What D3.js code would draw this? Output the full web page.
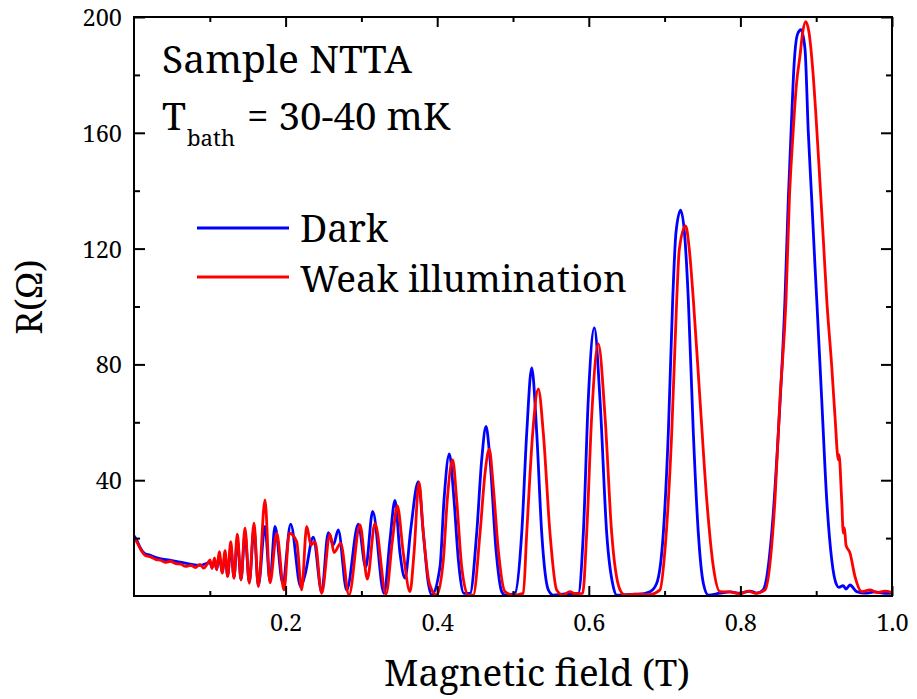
<!DOCTYPE html>
<html><head><meta charset="utf-8">
<script src="https://cdn.jsdelivr.net/npm/d3@7"></script>
<style>
body{margin:0;background:#fff}
svg{display:block}
</style></head><body>
<svg id="c" width="917" height="699"></svg>
<script>
// ---- data ----
const xMajorTicks = [0.2, 0.4, 0.6, 0.8, 1.0];
const xMinorTicks = [0.1, 0.3, 0.5, 0.7, 0.9];
const yMajorTicks = [40, 80, 120, 160, 200];
const yMinorTicks = [20, 60, 100, 140, 180];
const seriesNames = ["Dark", "Weak illumination"];

const darkData = [
[0,20.8],[0.003,19.6],[0.008,16.8],[0.0145,14.6],[0.021,14.1],[0.028,13.4],[0.034,12.9],[0.047,12.4],[0.061,11.7],[0.074,11.0],[0.087,10.6],
[0.1003,11.5],[0.1029,9.8],[0.1062,12.0],[0.1091,9.3],[0.1125,13.8],[0.1165,8.2],[0.1201,14.2],[0.1236,7.0],[0.1276,17.0],[0.1319,6.5],
[0.1363,19.5],[0.1412,5.8],[0.1464,21.5],[0.1521,4.8],[0.1583,23.2],[0.1640,3.6],[0.1728,24.0],[0.1794,5.0],[0.1860,24.0],[0.1962,4.4],
[0.2067,24.8],[0.2199,3.2],[0.2256,7.3],[0.2365,20.3],[0.2476,1.4],[0.2563,21.9],[0.2629,17.6],[0.2695,22.8],[0.2806,2.0],[0.2959,24.8],
[0.3057,9.9],[0.3149,29.2],[0.3298,0.9],[0.3377,19.4],[0.3443,33.0],[0.3509,14.8],[0.3575,6.2],[0.3650,22.8],[0.3751,39.5],[0.3817,21.7],
[0.3883,4.4],[0.3927,0.4],[0.4037,10.1],[0.4090,33.2],[0.4160,49.1],[0.4222,33.2],[0.4279,12.5],[0.4354,0.9],[0.4433,0.9],[0.4521,21.7],
[0.4587,47],[0.4644,58.6],[0.4697,47],[0.4776,15.9],[0.4851,1.5],[0.4894,0.3],[0.5026,0.9],[0.5115,21.7],[0.5181,56.3],[0.5247,78.8],
[0.5313,56.3],[0.5379,21.7],[0.5466,2.1],[0.5532,0.3],[0.5686,0.7],[0.5862,0.9],[0.5928,21.7],[0.5993,67.8],[0.6073,92.6],[0.6148,67.8],
[0.6236,21.7],[0.6323,3.2],[0.6368,0.3],[0.6500,0.5],[0.6650,0.6],[0.6807,1.5],[0.6896,4.4],[0.6983,21.7],[0.7049,56.3],[0.7107,102.4],
[0.7150,125.5],[0.7212,133.3],[0.7269,123.2],[0.7313,102.4],[0.7379,56.3],[0.7445,21.7],[0.7511,4.4],[0.7577,0.3],[0.7731,1.0],[0.7863,1.4],
[0.7995,1.0],[0.8127,1.7],[0.8219,1.0],[0.8300,2.1],[0.8413,21.7],[0.8500,56.3],[0.8588,102.4],[0.8632,137],[0.8677,165.8],[0.8707,183],
[0.8753,194],[0.8799,195.6],[0.8852,189],[0.8896,160],[0.8941,137],[0.8984,114],[0.9007,102.4],[0.9073,67.8],[0.9139,33.2],[0.9205,12.5],
[0.9270,3.8],[0.9300,3.0],[0.9354,3.6],[0.9393,2.4],[0.9446,3.8],[0.9534,1.5],[0.9644,1.0],[0.9776,1.4],[0.9908,0.9],[1.0,1.0]
];

const lightData = [
[0,19.8],[0.004,18.5],[0.009,16.0],[0.015,14.0],[0.022,13.5],[0.029,12.6],[0.035,12.4],[0.041,11.6],[0.048,12.0],[0.055,11.2],[0.062,11.0],
[0.068,10.2],[0.075,10.6],[0.081,9.8],[0.087,10.9],[0.092,9.6],[0.096,10.8],[0.1003,12.5],[0.1029,9.5],[0.1062,13.2],[0.1091,9.0],[0.1125,15.3],
[0.1165,7.9],[0.1201,15.7],[0.1236,6.7],[0.1276,18.8],[0.1319,6.1],[0.1363,21.4],[0.1412,5.5],[0.1464,23.4],[0.1521,4.4],[0.1583,25.2],
[0.1640,3.2],[0.1728,33.2],[0.1794,4.5],[0.1883,21.7],[0.1979,2.1],[0.2049,21.7],[0.2146,18.8],[0.2212,2.1],[0.2278,24.0],[0.2335,17.6],
[0.2388,18.7],[0.2476,0.9],[0.2586,21.4],[0.2639,15.0],[0.2727,18.2],[0.2836,0.3],[0.2982,24.6],[0.3078,5.8],[0.3179,25.1],[0.3325,0.7],
[0.3410,19.4],[0.3474,31.1],[0.3553,14.8],[0.3641,1.5],[0.3694,14.8],[0.3760,39.2],[0.3817,21.7],[0.3896,4.4],[0.3993,0.3],[0.4081,12.5],
[0.4133,33.2],[0.4204,47],[0.4257,33.2],[0.4323,10.1],[0.4410,0.3],[0.4476,0.3],[0.4565,21.7],[0.4631,42.4],[0.4687,50.7],[0.4740,37.8],
[0.4806,15.9],[0.4894,1.5],[0.5004,0.3],[0.5136,0.9],[0.5181,21.7],[0.5260,56.3],[0.5334,71.5],[0.5400,56.3],[0.5488,21.7],[0.5576,2.1],
[0.5664,0.3],[0.5750,1.5],[0.5820,0.8],[0.5919,0.9],[0.5972,21.7],[0.6038,62],[0.6125,87.1],[0.6214,62],[0.6302,21.7],[0.6412,2.1],[0.6478,0.3],
[0.6600,0.6],[0.6800,0.5],[0.6939,2.1],[0.7005,15.9],[0.7094,56.3],[0.7160,102.4],[0.7194,119.7],[0.7278,127.8],[0.7326,119.7],[0.7379,102.4],
[0.7467,67.8],[0.7556,33.2],[0.7643,10.1],[0.7731,1.5],[0.7863,1.4],[0.7995,0.7],[0.8100,1.7],[0.8206,0.9],[0.8325,2.1],[0.8456,33.2],
[0.8522,67.8],[0.8602,102.4],[0.8646,137],[0.8690,157.8],[0.8742,177.4],[0.8786,186.6],[0.8822,194.7],[0.8861,198.4],[0.8905,194.7],
[0.8954,182],[0.8997,165.8],[0.9050,142.8],[0.9094,123.2],[0.9139,102.4],[0.9205,79.3],[0.9248,62],[0.9292,47],[0.9301,48.8],[0.9336,33.2],
[0.9358,21.7],[0.9373,23.5],[0.9393,17.6],[0.9446,14.8],[0.9512,6.7],[0.9600,1.5],[0.9710,2.1],[0.9802,1.2],[0.9908,1.7],[1.0,1.2]
];

const FONT = '"Noto Serif", "DejaVu Serif", serif';

// ---- layout ----
const svg = d3.select("#c");
const L = 134, R = 892, T = 17, B = 596;
const x = d3.scaleLinear().domain([0, 1]).range([L, R]);
const y = d3.scaleLinear().domain([0, 200]).range([B, T]);

// size a text so that its width matches the width it has in the reference
function fit(sel, width, base) {
  sel.attr("font-family", FONT).attr("font-size", base).attr("fill", "#000");
  const w = sel.node().getComputedTextLength();
  if (w > 0) sel.attr("font-size", base * width / w);
  return +sel.attr("font-size");
}

svg.append("defs").append("clipPath").attr("id","clip")
  .append("rect").attr("x",L).attr("y",T).attr("width",R-L).attr("height",B-T);

const line = d3.line().x(d => x(d[0])).y(d => y(d[1])).curve(d3.curveMonotoneX);
const plot = svg.append("g").attr("clip-path","url(#clip)");
plot.append("path").datum(darkData).attr("d", line)
  .attr("fill","none").attr("stroke","#0000ff").attr("stroke-width",2.8).attr("stroke-linejoin","round");
plot.append("path").datum(lightData).attr("d", line)
  .attr("fill","none").attr("stroke","#ff0000").attr("stroke-width",2.8).attr("stroke-linejoin","round");

const tickSize = 23.5;

function style(g, labels) {
  g.select(".domain").remove();
  g.attr("font-family", FONT);
  g.selectAll(".tick line").attr("stroke","#000").attr("stroke-width",2);
  if (!labels) g.selectAll(".tick text").remove();
  else g.selectAll(".tick text").attr("font-size",tickSize).attr("font-family",FONT).attr("fill","#000");
}
// bottom
svg.append("g").attr("transform",`translate(0,${B})`)
  .call(d3.axisBottom(x).tickValues(xMajorTicks).tickSize(-10).tickPadding(0).tickFormat(d3.format(".1f")))
  .call(g => style(g, true))
  .call(g => g.selectAll(".tick text").attr("dy",null).attr("y",35));
svg.append("g").attr("transform",`translate(0,${B})`)
  .call(d3.axisBottom(x).tickValues(xMinorTicks).tickSize(-5)).call(g => style(g, false));
// top
svg.append("g").attr("transform",`translate(0,${T})`)
  .call(d3.axisTop(x).tickValues(xMajorTicks).tickSize(-10)).call(g => style(g, false));
svg.append("g").attr("transform",`translate(0,${T})`)
  .call(d3.axisTop(x).tickValues(xMinorTicks).tickSize(-5)).call(g => style(g, false));
// left
svg.append("g").attr("transform",`translate(${L},0)`)
  .call(d3.axisLeft(y).tickValues(yMajorTicks).tickSize(-11).tickPadding(12))
  .call(g => style(g, true))
  .call(g => g.selectAll(".tick text").attr("dy",null).attr("y",8.5));
svg.append("g").attr("transform",`translate(${L},0)`)
  .call(d3.axisLeft(y).tickValues(yMinorTicks).tickSize(-6)).call(g => style(g, false));
// right
svg.append("g").attr("transform",`translate(${R},0)`)
  .call(d3.axisRight(y).tickValues(yMajorTicks).tickSize(-11)).call(g => style(g, false));
svg.append("g").attr("transform",`translate(${R},0)`)
  .call(d3.axisRight(y).tickValues(yMinorTicks).tickSize(-6)).call(g => style(g, false));

// frame
svg.append("rect").attr("x",L).attr("y",T).attr("width",R-L).attr("height",B-T)
  .attr("fill","none").attr("stroke","#000").attr("stroke-width",2);

// axis titles
fit(svg.append("text").attr("x",537).attr("y",686).attr("text-anchor","middle").text("Magnetic field (T)"), 306, 34);
fit(svg.append("text").attr("transform","translate(42,297) rotate(-90)").attr("text-anchor","middle").text("R(Ω)"), 75, 35);

// annotations
fit(svg.append("text").attr("x",162).attr("y",73).text("Sample NTTA"), 250, 35);
fit(svg.append("text").attr("x",162).attr("y",130).text("T"), 24, 35);
fit(svg.append("text").attr("x",187).attr("y",146).text("bath"), 48, 21);
fit(svg.append("text").attr("x",247).attr("y",130).text("= 30-40 mK"), 203, 34);

// legend
const leg = [{name: seriesNames[0], color:"#0000ff", ly:228, ty:242, w:88},
             {name: seriesNames[1], color:"#ff0000", ly:277, ty:292, w:327}];
leg.forEach(d => {
  svg.append("line").attr("x1",197).attr("x2",289).attr("y1",d.ly).attr("y2",d.ly)
    .attr("stroke",d.color).attr("stroke-width",2.8);
  fit(svg.append("text").attr("x",300).attr("y",d.ty).text(d.name), d.w, 35);
});
</script>
</body></html>
